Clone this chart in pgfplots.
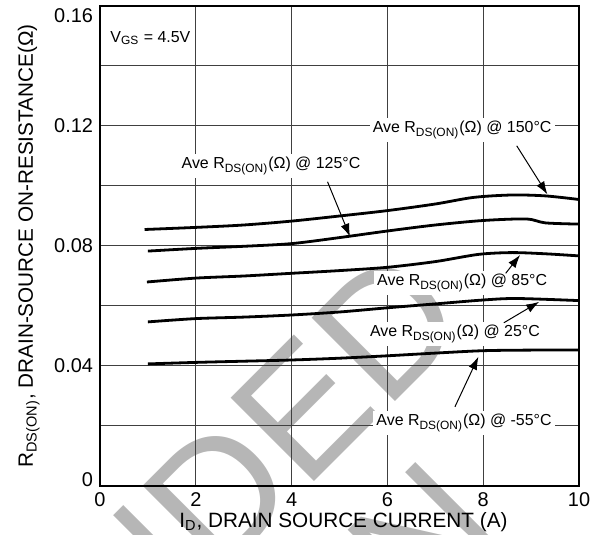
\documentclass[border=0pt]{standalone}
\usepackage{fontspec}
\setmainfont{Liberation Sans}
\usepackage{pgfplots}
\pgfplotsset{compat=1.18}
\usetikzlibrary{arrows.meta}
\definecolor{wmgray}{RGB}{182,182,182}

\begin{document}
\begin{tikzpicture}
\useasboundingbox (-50bp,-24.5bp) rectangle (251.5bp,243bp);
% watermark behind the chart
\begin{scope}
\clip (-50bp,-24.5bp) rectangle (251.5bp,243bp);
\node[anchor=base east, rotate=45, inner sep=0, text=wmgray,
      font=\fontsize{86}{90}\selectfont] at (186.5bp,81.4bp) {NOT RECOMMENDED};
\node[anchor=base east, rotate=45, inner sep=0, text=wmgray,
      font=\fontsize{86}{90}\selectfont] at (204.7bp,-24.8bp) {FOR NEW DESIGN};
\end{scope}
\begin{axis}[
  scale only axis,
  width=239.5bp, height=240bp,
  xmin=0, xmax=10, ymin=0, ymax=0.16,
  xtick={0,2,4,6,8,10},
  xticklabels={0,2,4,6,8,10},
  ytick={0,0.04,0.08,0.12,0.16},
  yticklabels={\raisebox{3bp}[\height][\depth]{0},0.04,0.08,0.12,\raisebox{-5bp}[\height][\depth]{0.16}},
  minor ytick={0.02,0.06,0.10,0.14},
  grid=both,
  major grid style={line width=0.5bp, black!75},
  minor grid style={line width=0.5bp, black!75},
  major tick length=0, minor tick length=0,
  axis line style={line width=0.6bp},
  tick label style={font=\fontsize{10}{12}\selectfont},
  no markers,
  every axis x label/.style={at={(axis description cs:0.5,0)}, anchor=base, xshift=2bp, yshift=-20.5bp},
  every axis y label/.style={at={(axis description cs:-0.1399,0.5)}, rotate=90, anchor=base},
  label style={font=\fontsize{10.4}{12}\selectfont},
  xlabel={I\textsubscript{D}, DRAIN SOURCE CURRENT (A)},
  ylabel={R\textsubscript{DS(ON)}, DRAIN-SOURCE ON-RESISTANCE(Ω)},
]
% 150 C
\addplot[black, line width=1.4bp, smooth] coordinates {
  (0.93,0.0855) (2,0.0862) (3,0.0870) (4,0.0883) (5,0.0900) (6,0.0918)
  (7,0.0940) (7.8,0.0962) (8.6,0.0970) (9.3,0.0967) (10,0.0955)};
% 125 C
\addplot[black, line width=1.4bp, smooth] coordinates {
  (1.0,0.0783) (2,0.0792) (3,0.0799) (4,0.0808) (5,0.0828) (6,0.0850)
  (7,0.0870) (8,0.0885) (8.9,0.0890) (9.3,0.0877) (10,0.0873)};
% 85 C
\addplot[black, line width=1.4bp, smooth] coordinates {
  (0.98,0.0680) (2,0.0693) (3,0.0700) (4,0.0709) (5,0.0718) (6,0.0729)
  (7,0.0748) (7.9,0.0772) (8.6,0.0778) (9.3,0.0774) (10,0.0767)};
% 25 C
\addplot[black, line width=1.4bp, smooth] coordinates {
  (1.0,0.0547) (2,0.0558) (3,0.0563) (4,0.0570) (5,0.0580) (6,0.0594)
  (7,0.0607) (8,0.0620) (8.7,0.0625) (10,0.0618)};
% -55 C
\addplot[black, line width=1.4bp, smooth] coordinates {
  (1.0,0.0407) (2,0.0412) (3,0.0416) (4,0.0420) (5,0.0426) (6,0.0434)
  (7,0.0443) (8,0.0451) (9,0.0453) (10,0.0453)};

\tikzset{lbl/.style={fill=white, inner sep=1.6bp, font=\fontsize{8}{9.6}\selectfont},
         arr/.style={line width=0.5bp, -{Latex[length=6.5bp,width=4.5bp]}}}
\node[lbl, anchor=west, fill=none, inner sep=0] at (axis cs:0.21,0.1493) {V\textsubscript{GS} = 4.5V};
\node[lbl] at (axis cs:7.56,0.1187) {Ave R\textsubscript{DS(ON)}(Ω) @ 150°C};
\node[lbl] at (axis cs:3.57,0.1067) {Ave R\textsubscript{DS(ON)}(Ω) @ 125°C};
\node[lbl] at (axis cs:7.56,0.0677) {Ave R\textsubscript{DS(ON)}(Ω) @ 85°C};
\node[lbl] at (axis cs:7.41,0.0507) {Ave R\textsubscript{DS(ON)}(Ω) @ 25°C};
\node[lbl] at (axis cs:7.60,0.0210) {Ave R\textsubscript{DS(ON)}(Ω) @ -55°C};
\draw[arr] (axis cs:8.70,0.1134) -- (axis cs:9.34,0.0972);
\draw[arr] (axis cs:4.75,0.1014) -- (axis cs:5.22,0.0831);
\draw[arr] (axis cs:8.47,0.0709) -- (axis cs:8.77,0.0770);
\draw[arr] (axis cs:8.43,0.0544) -- (axis cs:9.17,0.0614);
\draw[arr] (axis cs:7.41,0.0264) -- (axis cs:7.90,0.0431);
\end{axis}
\end{tikzpicture}
\end{document}
